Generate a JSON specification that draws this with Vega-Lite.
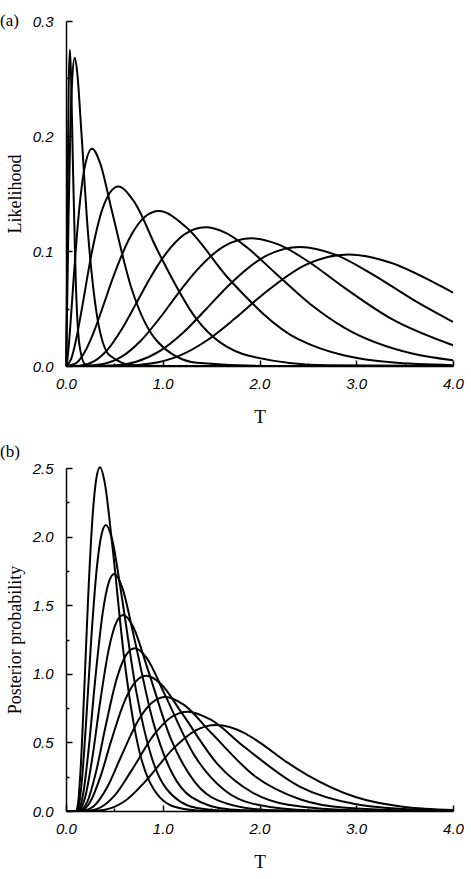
{
  "$schema": "https://vega.github.io/schema/vega-lite/v6.json",
  "background": "white",
  "padding": {"left": 0, "top": 12, "right": 10, "bottom": 5},
  "spacing": 17,
  "config": {
    "view": {"stroke": null},
    "axis": {"grid": false, "domainColor": "black", "tickColor": "black", "domainWidth": 1.5, "tickWidth": 1.5, "labelColor": "black", "labelFont": "Liberation Sans", "labelFontStyle": "italic", "labelFontSize": 15, "titleColor": "black", "titleFont": "Liberation Serif", "titleFontWeight": "normal", "labelFlush": false, "labelOverlap": false}
  },
  "datasets": {
    "lik": [
      {"c":1,"T":0,"v":0},{"c":1,"T":0.004,"v":0.0125},{"c":1,"T":0.012,"v":0.0907},{"c":1,"T":0.02,"v":0.18},{"c":1,"T":0.028,"v":0.2426},{"c":1,"T":0.04,"v":0.275},{"c":1,"T":0.052,"v":0.2532},{"c":1,"T":0.07,"v":0.181},{"c":1,"T":0.1,"v":0.0762},{"c":1,"T":0.14,"v":0.0177},{"c":1,"T":0.2,"v":0.0014},{"c":1,"T":0.32,"v":0},{"c":1,"T":4,"v":0},
      {"c":2,"T":0,"v":0},{"c":2,"T":0.009,"v":0.0376},{"c":2,"T":0.018,"v":0.0863},{"c":2,"T":0.027,"v":0.1323},{"c":2,"T":0.045,"v":0.2046},{"c":2,"T":0.063,"v":0.2474},{"c":2,"T":0.09,"v":0.268},{"c":2,"T":0.117,"v":0.2543},{"c":2,"T":0.1575,"v":0.2053},{"c":2,"T":0.225,"v":0.1184},{"c":2,"T":0.315,"v":0.0467},{"c":2,"T":0.45,"v":0.0094},{"c":2,"T":0.72,"v":0.0003},{"c":2,"T":1.35,"v":0},{"c":2,"T":4,"v":0},
      {"c":3,"T":0,"v":0},{"c":3,"T":0.0135,"v":0.0053},{"c":3,"T":0.027,"v":0.0162},{"c":3,"T":0.054,"v":0.0459},{"c":3,"T":0.081,"v":0.0782},{"c":3,"T":0.135,"v":0.1348},{"c":3,"T":0.189,"v":0.171},{"c":3,"T":0.27,"v":0.189},{"c":3,"T":0.351,"v":0.1769},{"c":3,"T":0.4725,"v":0.1354},{"c":3,"T":0.675,"v":0.068},{"c":3,"T":0.945,"v":0.0213},{"c":3,"T":1.35,"v":0.0029},{"c":3,"T":2.16,"v":0},{"c":3,"T":4,"v":0},
      {"c":4,"T":0,"v":0},{"c":4,"T":0.054,"v":0.0062},{"c":4,"T":0.108,"v":0.0243},{"c":4,"T":0.162,"v":0.0489},{"c":4,"T":0.27,"v":0.1001},{"c":4,"T":0.378,"v":0.1368},{"c":4,"T":0.54,"v":0.156},{"c":4,"T":0.702,"v":0.1431},{"c":4,"T":0.945,"v":0.1007},{"c":4,"T":1.35,"v":0.0407},{"c":4,"T":1.89,"v":0.0089},{"c":4,"T":2.7,"v":0.0006},{"c":4,"T":4,"v":0},
      {"c":5,"T":0,"v":0},{"c":5,"T":0.096,"v":0.002},{"c":5,"T":0.192,"v":0.0119},{"c":5,"T":0.288,"v":0.0297},{"c":5,"T":0.384,"v":0.0522},{"c":5,"T":0.48,"v":0.0755},{"c":5,"T":0.672,"v":0.1135},{"c":5,"T":0.816,"v":0.1297},{"c":5,"T":0.96,"v":0.1347},{"c":5,"T":1.248,"v":0.1203},{"c":5,"T":1.68,"v":0.0761},{"c":5,"T":2.4,"v":0.0234},{"c":5,"T":3.36,"v":0.0032},{"c":5,"T":4,"v":0.0007},
      {"c":6,"T":0,"v":0},{"c":6,"T":0.144,"v":0.0003},{"c":6,"T":0.288,"v":0.004},{"c":6,"T":0.432,"v":0.0145},{"c":6,"T":0.576,"v":0.032},{"c":6,"T":0.72,"v":0.0536},{"c":6,"T":0.864,"v":0.0757},{"c":6,"T":1.008,"v":0.0949},{"c":6,"T":1.224,"v":0.1144},{"c":6,"T":1.44,"v":0.1206},{"c":6,"T":1.656,"v":0.1155},{"c":6,"T":1.872,"v":0.103},{"c":6,"T":2.16,"v":0.0811},{"c":6,"T":2.52,"v":0.0542},{"c":6,"T":2.88,"v":0.0332},{"c":6,"T":3.6,"v":0.0104},{"c":6,"T":4,"v":0.005},
      {"c":7,"T":0,"v":0},{"c":7,"T":0.192,"v":0.0001},{"c":7,"T":0.384,"v":0.0017},{"c":7,"T":0.576,"v":0.0081},{"c":7,"T":0.768,"v":0.0215},{"c":7,"T":0.96,"v":0.0407},{"c":7,"T":1.152,"v":0.0623},{"c":7,"T":1.344,"v":0.0825},{"c":7,"T":1.632,"v":0.104},{"c":7,"T":1.92,"v":0.111},{"c":7,"T":2.208,"v":0.1053},{"c":7,"T":2.496,"v":0.0913},{"c":7,"T":2.88,"v":0.0679},{"c":7,"T":3.36,"v":0.0412},{"c":7,"T":4,"v":0.0181},
      {"c":8,"T":0,"v":0},{"c":8,"T":0.242,"v":0},{"c":8,"T":0.484,"v":0.0005},{"c":8,"T":0.726,"v":0.0037},{"c":8,"T":0.968,"v":0.0129},{"c":8,"T":1.21,"v":0.0289},{"c":8,"T":1.452,"v":0.0498},{"c":8,"T":1.694,"v":0.0711},{"c":8,"T":2.057,"v":0.0953},{"c":8,"T":2.42,"v":0.1035},{"c":8,"T":2.783,"v":0.0968},{"c":8,"T":3.146,"v":0.0808},{"c":8,"T":3.63,"v":0.0555},{"c":8,"T":4,"v":0.0383},
      {"c":9,"T":0,"v":0},{"c":9,"T":0.292,"v":0},{"c":9,"T":0.584,"v":0.0002},{"c":9,"T":0.876,"v":0.0021},{"c":9,"T":1.168,"v":0.0088},{"c":9,"T":1.46,"v":0.0224},{"c":9,"T":1.752,"v":0.0417},{"c":9,"T":2.044,"v":0.0629},{"c":9,"T":2.482,"v":0.0882},{"c":9,"T":2.92,"v":0.097},{"c":9,"T":3.358,"v":0.0898},{"c":9,"T":3.796,"v":0.0729},{"c":9,"T":4,"v":0.0638}
    ],
    "post": [
      {"c":1,"T":0,"v":0},{"c":1,"T":0.1,"v":0},{"c":1,"T":0.1251,"v":0.061},{"c":1,"T":0.1502,"v":0.294},{"c":1,"T":0.1879,"v":0.868},{"c":1,"T":0.2255,"v":1.502},{"c":1,"T":0.2757,"v":2.156},{"c":1,"T":0.3134,"v":2.423},{"c":1,"T":0.351,"v":2.505},{"c":1,"T":0.4012,"v":2.39},{"c":1,"T":0.4765,"v":1.95},{"c":1,"T":0.602,"v":1.111},{"c":1,"T":0.7275,"v":0.533},{"c":1,"T":0.853,"v":0.23},{"c":1,"T":1.104,"v":0.0347},{"c":1,"T":1.355,"v":0.0044},{"c":1,"T":1.606,"v":0.0005},{"c":1,"T":4,"v":0},
      {"c":2,"T":0,"v":0},{"c":2,"T":0.1,"v":0},{"c":2,"T":0.1313,"v":0.0388},{"c":2,"T":0.1626,"v":0.2096},{"c":2,"T":0.2096,"v":0.67},{"c":2,"T":0.2565,"v":1.205},{"c":2,"T":0.3191,"v":1.775},{"c":2,"T":0.3661,"v":2.012},{"c":2,"T":0.413,"v":2.085},{"c":2,"T":0.4756,"v":1.983},{"c":2,"T":0.5695,"v":1.594},{"c":2,"T":0.726,"v":0.872},{"c":2,"T":0.8825,"v":0.397},{"c":2,"T":1.039,"v":0.161},{"c":2,"T":1.352,"v":0.0213},{"c":2,"T":1.665,"v":0.0024},{"c":2,"T":4,"v":0},
      {"c":3,"T":0,"v":0},{"c":3,"T":0.1,"v":0},{"c":3,"T":0.1399,"v":0.0208},{"c":3,"T":0.1798,"v":0.135},{"c":3,"T":0.2397,"v":0.49},{"c":3,"T":0.2995,"v":0.94},{"c":3,"T":0.3793,"v":1.444},{"c":3,"T":0.4392,"v":1.66},{"c":3,"T":0.499,"v":1.727},{"c":3,"T":0.5788,"v":1.633},{"c":3,"T":0.6985,"v":1.282},{"c":3,"T":0.898,"v":0.657},{"c":3,"T":1.0975,"v":0.2746},{"c":3,"T":1.297,"v":0.101},{"c":3,"T":1.696,"v":0.0107},{"c":3,"T":2.095,"v":0.0009},{"c":3,"T":4,"v":0},
      {"c":4,"T":0,"v":0},{"c":4,"T":0.1,"v":0},{"c":4,"T":0.1492,"v":0.0147},{"c":4,"T":0.1984,"v":0.102},{"c":4,"T":0.2722,"v":0.388},{"c":4,"T":0.346,"v":0.761},{"c":4,"T":0.4444,"v":1.187},{"c":4,"T":0.5182,"v":1.371},{"c":4,"T":0.592,"v":1.428},{"c":4,"T":0.6904,"v":1.348},{"c":4,"T":0.838,"v":1.049},{"c":4,"T":1.084,"v":0.525},{"c":4,"T":1.33,"v":0.213},{"c":4,"T":1.576,"v":0.0756},{"c":4,"T":2.068,"v":0.0074},{"c":4,"T":2.56,"v":0.0006},{"c":4,"T":4,"v":0},
      {"c":5,"T":0,"v":0},{"c":5,"T":0.1,"v":0},{"c":5,"T":0.1612,"v":0.0091},{"c":5,"T":0.2224,"v":0.0716},{"c":5,"T":0.3142,"v":0.296},{"c":5,"T":0.406,"v":0.607},{"c":5,"T":0.5284,"v":0.974},{"c":5,"T":0.6202,"v":1.136},{"c":5,"T":0.712,"v":1.186},{"c":5,"T":0.8344,"v":1.115},{"c":5,"T":1.018,"v":0.854},{"c":5,"T":1.324,"v":0.409},{"c":5,"T":1.63,"v":0.1565},{"c":5,"T":1.936,"v":0.052},{"c":5,"T":2.548,"v":0.0044},{"c":5,"T":3.16,"v":0.0003},{"c":5,"T":4,"v":0},
      {"c":6,"T":0,"v":0},{"c":6,"T":0.1,"v":0},{"c":6,"T":0.1732,"v":0.008},{"c":6,"T":0.2464,"v":0.0615},{"c":6,"T":0.3562,"v":0.25},{"c":6,"T":0.466,"v":0.509},{"c":6,"T":0.6124,"v":0.812},{"c":6,"T":0.7222,"v":0.945},{"c":6,"T":0.832,"v":0.986},{"c":6,"T":0.9784,"v":0.928},{"c":6,"T":1.198,"v":0.713},{"c":6,"T":1.564,"v":0.344},{"c":6,"T":1.93,"v":0.133},{"c":6,"T":2.296,"v":0.0448},{"c":6,"T":3.028,"v":0.0039},{"c":6,"T":3.76,"v":0.0003},{"c":6,"T":4,"v":0},
      {"c":7,"T":0,"v":0},{"c":7,"T":0.1,"v":0},{"c":7,"T":0.193,"v":0.0034},{"c":7,"T":0.286,"v":0.0349},{"c":7,"T":0.4255,"v":0.1734},{"c":7,"T":0.565,"v":0.39},{"c":7,"T":0.751,"v":0.665},{"c":7,"T":0.8905,"v":0.791},{"c":7,"T":1.03,"v":0.831},{"c":7,"T":1.216,"v":0.775},{"c":7,"T":1.495,"v":0.574},{"c":7,"T":1.96,"v":0.2496},{"c":7,"T":2.425,"v":0.0843},{"c":7,"T":2.89,"v":0.0243},{"c":7,"T":3.82,"v":0.0015},{"c":7,"T":4,"v":0.001},
      {"c":8,"T":0,"v":0},{"c":8,"T":0.1,"v":0},{"c":8,"T":0.216,"v":0.0011},{"c":8,"T":0.332,"v":0.0175},{"c":8,"T":0.506,"v":0.1151},{"c":8,"T":0.68,"v":0.298},{"c":8,"T":0.912,"v":0.558},{"c":8,"T":1.086,"v":0.6835},{"c":8,"T":1.26,"v":0.724},{"c":8,"T":1.492,"v":0.667},{"c":8,"T":1.84,"v":0.4687},{"c":8,"T":2.42,"v":0.1764},{"c":8,"T":3.0,"v":0.0494},{"c":8,"T":3.58,"v":0.0115},{"c":8,"T":4,"v":0.0037},
      {"c":9,"T":0,"v":0},{"c":9,"T":0.1,"v":0},{"c":9,"T":0.2455,"v":0.0003},{"c":9,"T":0.391,"v":0.008},{"c":9,"T":0.6093,"v":0.0727},{"c":9,"T":0.8275,"v":0.2216},{"c":9,"T":1.1185,"v":0.4619},{"c":9,"T":1.3368,"v":0.5861},{"c":9,"T":1.555,"v":0.627},{"c":9,"T":1.846,"v":0.568},{"c":9,"T":2.0,"v":0.5},{"c":9,"T":2.2825,"v":0.356},{"c":9,"T":2.5,"v":0.26},{"c":9,"T":3.0,"v":0.1},{"c":9,"T":3.5,"v":0.03},{"c":9,"T":4,"v":0.008}
    ]
  },
  "vconcat": [
    {
      "width": 387, "height": 345,
      "data": {"name": "lik"},
      "title": {"text": "(a)", "anchor": "start", "frame": "group", "font": "Liberation Serif", "fontSize": 17, "fontWeight": "normal", "color": "black", "dx": -66, "dy": 16, "offset": 0},
      "mark": {"type": "line", "color": "black", "strokeWidth": 2, "interpolate": "monotone"},
      "encoding": {
        "x": {"field": "T", "type": "quantitative", "scale": {"domain": [0, 4], "nice": false},
          "axis": {"values": [0,0.5,1,1.5,2,2.5,3,3.5,4], "labelExpr": "datum.value % 1 == 0 ? format(datum.value, '.1f') : ''", "tickSize": {"condition": {"test": "datum.value % 1 == 0", "value": -6}, "value": -3}, "labelPadding": 16, "title": "T", "titleFontSize": 19, "titlePadding": 13}},
        "y": {"field": "v", "type": "quantitative", "scale": {"domain": [0, 0.3], "nice": false},
          "axis": {"values": [0,0.05,0.1,0.15,0.2,0.25,0.3], "labelExpr": "abs(datum.value*10 - round(datum.value*10)) < 0.001 ? format(datum.value, '.1f') : ''", "tickSize": {"condition": {"test": "abs(datum.value*10 - round(datum.value*10)) < 0.001", "value": -6}, "value": -3}, "labelPadding": 19, "title": "Likelihood", "titleFontSize": 18, "titlePadding": 8}},
        "detail": {"field": "c", "type": "nominal"}
      }
    },
    {
      "width": 387, "height": 343,
      "data": {"name": "post"},
      "title": {"text": "(b)", "anchor": "start", "frame": "group", "font": "Liberation Serif", "fontSize": 17, "fontWeight": "normal", "color": "black", "dx": -66, "dy": 0, "offset": 0},
      "mark": {"type": "line", "color": "black", "strokeWidth": 2, "interpolate": "monotone"},
      "encoding": {
        "x": {"field": "T", "type": "quantitative", "scale": {"domain": [0, 4], "nice": false},
          "axis": {"values": [0,0.5,1,1.5,2,2.5,3,3.5,4], "labelExpr": "datum.value % 1 == 0 ? format(datum.value, '.1f') : ''", "tickSize": {"condition": {"test": "datum.value % 1 == 0", "value": -6}, "value": -3}, "labelPadding": 16, "title": "T", "titleFontSize": 19, "titlePadding": 13}},
        "y": {"field": "v", "type": "quantitative", "scale": {"domain": [0, 2.5], "nice": false},
          "axis": {"values": [0,0.25,0.5,0.75,1,1.25,1.5,1.75,2,2.25,2.5], "labelExpr": "abs(datum.value*2 - round(datum.value*2)) < 0.001 ? format(datum.value, '.1f') : ''", "tickSize": {"condition": {"test": "abs(datum.value*2 - round(datum.value*2)) < 0.001", "value": -6}, "value": -3}, "labelPadding": 19, "title": "Posterior probability", "titleFontSize": 18, "titlePadding": 8}},
        "detail": {"field": "c", "type": "nominal"}
      }
    }
  ]
}
